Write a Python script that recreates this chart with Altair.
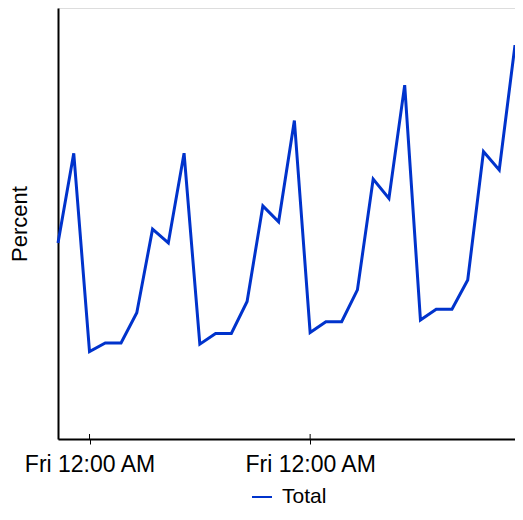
import altair as alt
import pandas as pd

dates = [
    "2008-12-31T00:00:00", "2009-01-01T00:00:00", "2009-01-02T00:00:00",
    "2009-01-03T00:00:00", "2009-01-04T00:00:00", "2009-01-05T00:00:00",
    "2009-01-06T00:00:00", "2009-01-07T00:00:00", "2009-01-08T00:00:00",
    "2009-01-09T00:00:00", "2009-01-10T00:00:00", "2009-01-11T00:00:00",
    "2009-01-12T00:00:00", "2009-01-13T00:00:00", "2009-01-14T00:00:00",
    "2009-01-15T00:00:00", "2009-01-16T00:00:00", "2009-01-17T00:00:00",
    "2009-01-18T00:00:00", "2009-01-19T00:00:00", "2009-01-20T00:00:00",
    "2009-01-21T00:00:00", "2009-01-22T00:00:00", "2009-01-23T00:00:00",
    "2009-01-24T00:00:00", "2009-01-25T00:00:00", "2009-01-26T00:00:00",
    "2009-01-27T00:00:00", "2009-01-28T00:00:00", "2009-01-29T00:00:00",
]
total = [
    45.5, 66.3, 20.3, 22.3, 22.3, 29.3, 48.7, 45.5, 66.3, 22.0,
    24.5, 24.5, 31.9, 54.1, 50.4, 73.9, 24.7, 27.2, 27.2, 34.6,
    60.3, 55.8, 82.1, 27.6, 30.1, 30.1, 36.9, 66.7, 62.4, 91.4,
]
series_name = "Total"
tick_dates = ["2009-01-02T00:00:00", "2009-01-16T00:00:00"]

FONT = "Liberation Sans"
BLUE = "#0033cc"
W, H = 457, 431

df = pd.DataFrame({"date": dates, "value": total, "series": series_name})
ticks_df = pd.DataFrame({"date": tick_dates})

x_scale = alt.Scale(domain=[dates[0], dates[-1]], nice=False, padding=0)

line = alt.Chart(df).mark_line(strokeWidth=3).encode(
    x=alt.X(
        "date:T",
        scale=x_scale,
        axis=alt.Axis(
            values=[alt.DateTime(year=2009, month=1, date=2),
                    alt.DateTime(year=2009, month=1, date=16)],
            format="%a %I:%M %p",
            title=None,
            grid=False,
            domainColor="black",
            domainWidth=2,
            tickColor="black",
            tickWidth=1,
            tickSize=5,
            labelFont=FONT,
            labelFontSize=23,
            labelColor="black",
            labelPadding=9,
            labelFlush=False,
            labelOverlap=False,
        ),
    ),
    y=alt.Y(
        "value:Q",
        scale=alt.Scale(domain=[0, 100], nice=False),
        axis=alt.Axis(
            title="Percent",
            labels=False,
            ticks=False,
            grid=False,
            domainColor="black",
            domainWidth=2,
            titleFont=FONT,
            titleFontSize=22,
            titleFontWeight="normal",
            titleColor="black",
            titlePadding=27,
        ),
    ),
    color=alt.Color(
        "series:N",
        scale=alt.Scale(range=[BLUE]),
        legend=alt.Legend(
            title=None,
            orient="none",
            legendX=193,
            legendY=478,
            symbolType="stroke",
            symbolSize=400,
            symbolStrokeWidth=2,
            labelFont=FONT,
            labelFontSize=21,
            labelColor="black",
            labelOffset=9,
        ),
    ),
)

inner_ticks = alt.Chart(ticks_df).mark_rule(color="black", strokeWidth=1).encode(
    x=alt.X("date:T", scale=x_scale),
    y=alt.value(H - 5),
    y2=alt.value(H),
)

chart = (
    alt.layer(line, inner_ticks)
    .properties(
        width=W,
        height=H,
        autosize=alt.AutoSizeParams(type="none"),
        padding={"left": 50, "top": 0, "right": 0, "bottom": 69},
    )
    .configure_view(stroke=None)
    .configure(background="white")
)

chart.save("out.html", embed_options={"renderer": "svg", "actions": False})
